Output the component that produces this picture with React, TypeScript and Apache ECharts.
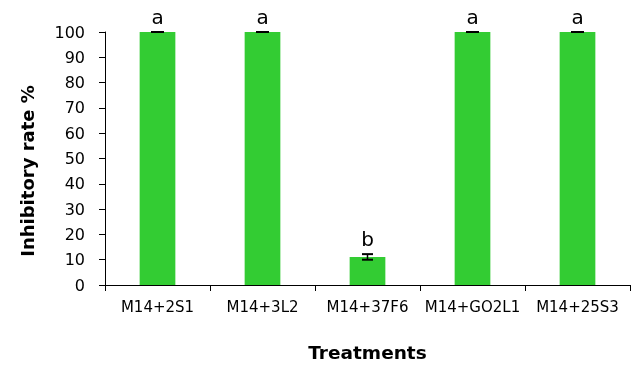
import React, { useEffect, useRef } from "react";
import * as echarts from "echarts";

const categories = ["M14+2S1", "M14+3L2", "M14+37F6", "M14+GO2L1", "M14+25S3"];
const values = [100, 100, 11.1, 100, 100];
const errors = [0, 0, 1.1, 0, 0];
const letters = ["a", "a", "b", "a", "a"];
const yTicks = [0, 10, 20, 30, 40, 50, 60, 70, 80, 90, 100];

const FONT = "'DejaVu Sans', sans-serif";

export default function App() {
  const ref = useRef<HTMLDivElement>(null);
  useEffect(() => {
    const chart = echarts.init(ref.current!, null, { renderer: "svg" });
    chart.setOption({
      animation: false,
      grid: { left: 105, right: 6, top: 32, bottom: 80 },
      graphic: [
        {
          type: "text",
          x: 27,
          y: 171,
          rotation: Math.PI / 2,
          style: {
            text: "Inhibitory rate %",
            fill: "#000",
            fontSize: 18,
            fontWeight: "bold",
            fontFamily: FONT,
            align: "center",
            verticalAlign: "middle",
          },
        },
      ],
      xAxis: {
        type: "category",
        data: categories,
        axisLine: { lineStyle: { color: "#000", width: 1 } },
        axisTick: { show: true, length: 6, lineStyle: { color: "#000" } },
        axisLabel: { color: "#000", fontSize: 15, fontFamily: FONT, margin: 14, interval: 0 },
        name: "Treatments",
        nameLocation: "middle",
        nameGap: 58,
        nameTextStyle: { color: "#000", fontSize: 18.5, fontWeight: "bold", fontFamily: FONT },
      },
      yAxis: {
        type: "value",
        min: yTicks[0],
        max: yTicks[yTicks.length - 1],
        interval: 10,
        axisLine: { show: true, lineStyle: { color: "#000", width: 1 } },
        axisTick: { show: true, length: 6, lineStyle: { color: "#000" } },
        splitLine: { show: false },
        axisLabel: { color: "#000", fontSize: 16, fontFamily: FONT, margin: 20 },
      },
      series: [
        {
          type: "bar",
          data: values,
          barWidth: "34%",
          itemStyle: { color: "#33CC33" },
        },
        {
          type: "custom",
          data: values.map((v, i) => [i, v, errors[i]]),
          renderItem: (params: any, api: any) => {
            const i = api.value(0);
            const v = api.value(1);
            const e = api.value(2);
            const letter = letters[params.dataIndex];
            const top = api.coord([i, v + e]);
            const bot = api.coord([i, Math.max(0, v - e)]);
            const x = top[0];
            const hw = e > 0 ? 5.5 : 6.5;
            const children: any[] = [
              { type: "line", shape: { x1: x - hw, y1: top[1], x2: x + hw, y2: top[1] }, style: { stroke: "#000", lineWidth: 2 } },
            ];
            if (e > 0) {
              children.push(
                { type: "line", shape: { x1: x, y1: top[1], x2: x, y2: bot[1] }, style: { stroke: "#000", lineWidth: 1.5 } },
                { type: "line", shape: { x1: x - hw, y1: bot[1], x2: x + hw, y2: bot[1] }, style: { stroke: "#000", lineWidth: 2 } }
              );
            }
            children.push({
              type: "text",
              x: x,
              y: top[1] - 5,
              style: { text: letter, fill: "#000", fontSize: 20, fontFamily: FONT, align: "center", verticalAlign: "bottom" },
            });
            return { type: "group", children };
          },
          z: 5,
        },
      ],
    });
    return () => chart.dispose();
  }, []);
  return <div ref={ref} style={{ position: "fixed", left: 0, top: 0, width: 636, height: 367 }} />;
}
